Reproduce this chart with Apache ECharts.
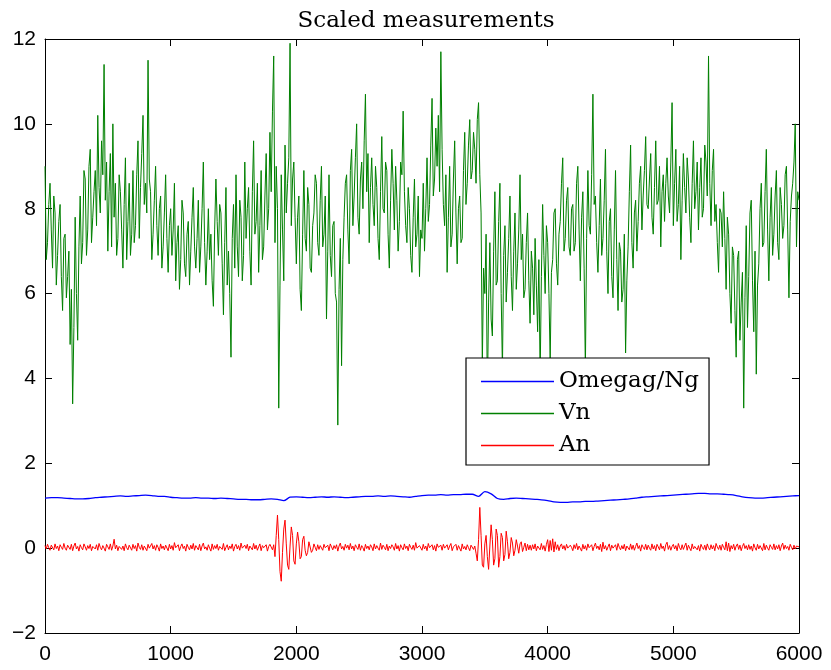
<!DOCTYPE html>
<html>
<head>
<meta charset="utf-8">
<title>Scaled measurements</title>
<script src="https://cdn.jsdelivr.net/npm/echarts@6/dist/echarts.min.js"></script>
<style>
  html, body { margin: 0; padding: 0; background: #fff; }
  #chart { width: 831px; height: 670px; }
</style>
</head>
<body>
<div id="chart"></div>
<script>
// Sample spacing of each recorded series (in samples)
const vnStep = 10;
const anStep = 10;
const omegaStep = 50;

const seriesNames = ['Omegag/Ng', 'Vn', 'An'];
const seriesColors = ['#0000ff', '#008000', '#ff0000'];
const xTicks = [0, 1000, 2000, 3000, 4000, 5000, 6000];
const yTicks = [-2, 0, 2, 4, 6, 8, 10, 12];

// Omegag/Ng, every 50 samples
const omegaValues = [
  1.18, 1.19, 1.19, 1.18, 1.17, 1.16, 1.16, 1.17, 1.19, 1.20,
  1.21, 1.22, 1.23, 1.22, 1.23, 1.24, 1.25, 1.24, 1.22, 1.22,
  1.20, 1.19, 1.18, 1.18, 1.19, 1.18, 1.18, 1.17, 1.18, 1.17,
  1.16, 1.15, 1.15, 1.14, 1.14, 1.15, 1.16, 1.15, 1.12, 1.20,
  1.21, 1.20, 1.19, 1.20, 1.21, 1.20, 1.21, 1.20, 1.19, 1.20,
  1.21, 1.22, 1.22, 1.23, 1.22, 1.23, 1.22, 1.21, 1.20, 1.22,
  1.24, 1.25, 1.25, 1.26, 1.25, 1.26, 1.26, 1.27, 1.27, 1.22,
  1.33, 1.28, 1.17, 1.15, 1.17, 1.18, 1.17, 1.16, 1.15, 1.14,
  1.12, 1.09, 1.08, 1.08, 1.09, 1.09, 1.10, 1.10, 1.11, 1.12,
  1.13, 1.14, 1.15, 1.16, 1.18, 1.20, 1.21, 1.22, 1.23, 1.24,
  1.25, 1.26, 1.27, 1.28, 1.29, 1.29, 1.28, 1.28, 1.27, 1.26,
  1.24, 1.21, 1.19, 1.18, 1.18, 1.19, 1.20, 1.21, 1.22, 1.23,
  1.24
];

// Vn, every 10 samples (one row = 200 samples)
const vnValues = [
  9.0, 6.8, 7.2, 8.1, 8.6, 7.5, 6.6, 8.3, 7.9, 6.2, 6.9, 7.7, 8.1, 6.4, 5.6, 7.3, 7.4, 5.9, 6.4, 7.0,
  4.8, 6.1, 3.4, 5.2, 7.8, 6.0, 4.9, 7.1, 8.3, 6.7, 7.2, 8.9, 8.7, 6.9, 7.5, 9.0, 9.4, 7.2, 7.8, 8.4,
  8.9, 7.6, 10.2, 8.5, 7.9, 9.6, 8.8, 11.4, 8.2, 9.1, 7.0, 8.4, 9.3, 7.1, 10.0, 7.8, 8.6, 6.9, 7.3, 8.8,
  8.4, 7.5, 6.6, 8.1, 9.2, 6.8, 7.7, 8.6, 6.9, 7.4, 8.9, 7.2, 7.6, 8.8, 9.6, 7.3, 8.5, 9.3, 10.2, 8.1,
  8.6, 7.9, 11.5, 8.7, 8.4, 6.8, 7.4, 8.2, 9.0, 7.6, 6.9, 8.0, 8.3, 6.6, 7.1, 7.9, 8.8, 7.3, 6.5, 7.6,
  8.0, 6.9, 7.5, 8.6, 6.3, 7.2, 7.6, 6.1, 6.8, 8.2, 7.9, 6.7, 6.4, 7.4, 7.7, 6.2, 7.0, 7.8, 8.5, 7.1,
  6.6, 7.3, 8.2, 6.5, 7.1, 8.0, 9.1, 7.2, 6.2, 7.0, 8.0, 6.8, 7.4, 6.3, 5.7, 7.5, 8.7, 7.7, 6.9, 8.1,
  7.9, 6.7, 5.5, 7.2, 8.5, 6.2, 7.0, 6.0, 4.5, 7.3, 8.1, 6.6, 8.8, 7.1, 6.4, 8.2, 7.8, 6.3, 6.9, 9.1,
  7.3, 8.0, 8.5, 7.0, 6.2, 8.4, 9.6, 7.4, 7.7, 8.6, 6.5, 7.6, 8.9, 6.8, 7.1, 8.3, 9.3, 7.5, 8.0, 9.8,
  8.4, 10.3, 11.6, 7.2, 9.0, 8.0, 3.3, 6.2, 8.8, 7.5, 6.3, 9.5, 7.9, 8.6, 9.2, 11.9, 7.6, 8.7, 9.1, 7.8,
  6.7, 7.8, 8.3, 6.1, 5.6, 7.4, 8.9, 7.3, 7.0, 8.5, 8.1, 6.6, 6.5, 7.6, 7.9, 8.8, 8.6, 7.2, 6.9, 8.2,
  9.0, 7.1, 7.4, 8.3, 5.4, 7.0, 8.8, 6.9, 6.4, 7.6, 7.7, 6.0, 5.8, 2.9, 6.1, 7.3, 4.3, 6.8, 7.8, 8.6,
  8.8, 7.5, 6.7, 8.9, 9.4, 7.6, 8.3, 9.2, 10.0, 7.8, 7.4, 8.7, 9.1, 8.0, 9.6, 10.7, 8.4, 9.3, 7.2, 8.5,
  9.2, 8.1, 7.6, 9.0, 8.5, 7.3, 6.8, 8.4, 9.7, 8.0, 7.9, 9.1, 8.9, 7.4, 6.6, 8.2, 9.4, 8.6, 7.5, 9.0,
  8.2, 7.0, 7.7, 9.1, 8.8, 10.3, 8.4, 7.6, 7.2, 8.5, 8.0, 6.9, 6.5, 7.8, 8.7, 7.1, 7.4, 8.3, 6.4, 7.5,
  7.3, 8.6, 7.0, 8.0, 9.2, 7.7, 8.1, 9.5, 10.6, 8.3, 8.7, 9.9, 9.0, 10.2, 8.4, 11.7, 9.4, 8.1, 7.6, 8.8,
  6.5, 7.8, 9.0, 7.1, 7.4, 8.7, 9.6, 7.9, 6.7, 8.0, 8.3, 7.2, 7.3, 8.9, 9.8, 8.1, 8.6, 9.5, 10.1, 8.7,
  8.9, 9.8, 9.4, 8.6, 10.1, 10.5, 8.8, 7.9, 4.3, 6.6, 6.0, 7.4, 3.5, 5.8, 7.2, 5.4, 5.0, 7.0, 8.4, 6.2,
  6.3, 7.7, 8.6, 6.0, 4.2, 6.9, 7.6, 5.8, 6.5, 7.3, 8.3, 6.4, 5.6, 7.0, 7.9, 6.1, 6.7, 7.5, 8.8, 6.8,
  7.4, 5.9, 6.1, 7.2, 7.9, 6.3, 5.3, 7.0, 6.6, 5.5, 7.3, 6.2, 5.1, 6.8, 4.0, 6.4, 8.1, 6.9, 6.0, 7.6,
  7.2, 6.0, 4.4, 6.5, 6.8, 7.9, 8.0, 6.7, 6.2, 7.4, 7.7, 8.6, 9.2, 7.0, 7.3, 8.2, 8.5, 7.1, 6.9, 8.0,
  8.1, 7.0, 7.2, 8.6, 9.0, 7.5, 6.3, 7.8, 8.4, 6.6, 4.2, 7.3, 8.9, 7.6, 7.4, 8.8, 10.7, 8.1, 8.3, 7.2,
  6.5, 7.6, 8.7, 6.9, 7.3, 8.2, 9.4, 7.0, 6.0, 7.7, 8.0, 6.4, 5.9, 7.5, 8.9, 6.8, 5.6, 7.2, 7.0, 5.8,
  6.1, 7.4, 4.6, 6.3, 7.1, 8.4, 9.5, 7.2, 6.6, 7.9, 8.2, 7.0, 7.7, 8.6, 9.0, 7.5, 8.3, 8.9, 9.7, 8.1,
  8.0, 8.7, 9.3, 7.8, 7.4, 8.5, 9.6, 8.1, 8.2, 9.0, 7.1, 8.4, 8.8, 7.7, 8.6, 9.2, 8.3, 7.9, 9.1, 10.5,
  7.6, 8.6, 9.4, 7.7, 8.1, 9.0, 6.8, 8.2, 9.3, 8.5, 7.9, 9.2, 8.7, 7.8, 7.2, 8.6, 9.6, 8.0, 8.4, 9.1,
  7.5, 8.5, 9.2, 7.8, 8.0, 9.5, 9.1, 8.3, 11.6, 8.6, 7.6, 8.9, 9.4, 7.7, 8.1, 7.2, 6.5, 8.0, 7.9, 7.1,
  8.4, 7.3, 6.1, 7.8, 7.4, 6.0, 5.3, 7.1, 6.9, 5.6, 4.5, 6.8, 7.0, 4.9, 5.8, 6.5, 3.3, 5.9, 7.6, 5.2,
  6.4, 7.9, 8.2, 6.3, 5.1, 7.0, 4.1, 6.2, 6.7, 8.0, 8.6, 7.1, 7.2, 8.4, 9.4, 7.5, 6.3, 7.8, 8.5, 6.9,
  7.4, 8.3, 8.9, 7.2, 6.8, 8.5, 8.1, 7.3, 7.6, 8.8, 9.0, 7.5, 5.9, 7.7, 8.3, 8.6, 9.1, 10.0, 7.1, 8.4,
  8.2
];

// An, every 10 samples (one row = 200 samples)
const anValues = [
  0.06, -0.02, 0.09, 0.01, -0.05, 0.07, 0.03, -0.04, 0.10, -0.01, 0.05, -0.06, 0.08, 0.02, -0.03, 0.11, 0.00, -0.05, 0.07, 0.04,
  -0.03, 0.09, -0.06, 0.05, 0.12, -0.02, 0.04, -0.07, 0.08, 0.01, -0.04, 0.10, 0.03, -0.05, 0.06, -0.01, 0.09, -0.06, 0.04, 0.07,
  -0.02, 0.08, -0.05, 0.11, 0.02, -0.04, 0.06, 0.00, -0.07, 0.09, 0.03, -0.03, 0.10, -0.05, 0.05, 0.21, -0.02, 0.07, -0.06, 0.04,
  0.08, -0.03, 0.05, -0.06, 0.10, 0.01, -0.04, 0.07, 0.03, -0.05, 0.09, -0.01, 0.06, -0.07, 0.12, 0.02, -0.03, 0.08, -0.05, 0.05,
  0.03, -0.06, 0.09, 0.00, -0.04, 0.11, -0.02, 0.06, -0.05, 0.08, 0.02, -0.07, 0.10, -0.01, 0.05, -0.04, 0.07, 0.03, -0.06, 0.09,
  -0.02, 0.06, -0.05, 0.13, 0.01, -0.03, 0.08, -0.06, 0.04, 0.10, -0.01, 0.05, -0.07, 0.09, 0.02, -0.04, 0.07, -0.02, 0.11, -0.05,
  0.06, 0.01, -0.04, 0.09, -0.06, 0.05, 0.12, -0.02, 0.03, -0.05, 0.08, 0.00, -0.07, 0.10, -0.03, 0.06, -0.01, 0.09, -0.05, 0.04,
  0.07, -0.03, 0.11, -0.06, 0.02, 0.08, -0.04, 0.05, -0.01, 0.10, -0.07, 0.04, 0.09, -0.02, 0.06, -0.05, 0.12, 0.00, -0.04, 0.07,
  -0.01, 0.09, -0.06, 0.05, 0.02, -0.04, 0.11, -0.02, 0.07, -0.05, 0.03, 0.10, -0.06, 0.06, 0.01, -0.03, 0.08, -0.07, 0.04, 0.09,
  0.05, -0.04, 0.08, -0.20, 0.30, 0.78, 0.20, -0.55, -0.78, -0.10, 0.45, 0.66, 0.10, -0.40, -0.50, 0.05, 0.50, 0.30, -0.30, -0.38,
  0.10, 0.38, 0.15, -0.25, -0.20, 0.20, 0.28, -0.05, -0.18, -0.10, 0.15, 0.12, -0.10, -0.05, 0.10, 0.02, -0.06, 0.08, -0.03, 0.06,
  0.02, -0.05, 0.09, 0.01, -0.03, 0.07, -0.06, 0.10, 0.03, -0.04, 0.06, -0.01, 0.08, -0.07, 0.05, 0.12, -0.02, 0.04, -0.05, 0.09,
  0.00, 0.07, -0.04, 0.11, -0.02, 0.05, -0.06, 0.08, 0.02, -0.03, 0.10, -0.05, 0.06, 0.01, -0.07, 0.09, -0.01, 0.05, -0.04, 0.08,
  0.03, -0.06, 0.10, -0.02, 0.06, 0.00, -0.05, 0.12, -0.03, 0.07, 0.02, -0.04, 0.09, -0.06, 0.05, -0.01, 0.08, 0.03, -0.05, 0.11,
  -0.02, 0.06, -0.07, 0.08, 0.01, -0.04, 0.10, -0.01, 0.05, -0.06, 0.09, 0.02, -0.03, 0.07, -0.05, 0.13, 0.00, -0.04, 0.06, 0.03,
  -0.05, 0.09, -0.02, 0.05, -0.06, 0.11, 0.01, -0.03, 0.08, -0.04, 0.06, -0.07, 0.10, 0.02, -0.02, 0.07, -0.05, 0.09, 0.00, -0.03,
  0.08, -0.04, 0.05, 0.11, -0.06, 0.03, -0.01, 0.09, -0.05, 0.06, 0.02, -0.07, 0.10, -0.02, 0.04, -0.04, 0.08, 0.01, -0.06, 0.07,
  0.06, -0.03, 0.05, -0.12, -0.30, 0.20, 0.96, 0.30, -0.40, -0.45, 0.10, 0.30, -0.20, -0.50, 0.05, 0.55, 0.20, -0.40, -0.25, 0.45,
  0.30, -0.45, -0.20, 0.35, 0.25, -0.30, -0.15, 0.40, 0.15, -0.25, -0.10, 0.25, 0.12, -0.18, -0.05, 0.20, 0.05, -0.12, 0.10, 0.15,
  -0.08, 0.02, 0.12, -0.06, 0.09, -0.04, 0.07, -0.05, 0.08, -0.02, 0.10, -0.06, 0.05, 0.01, -0.04, 0.11, -0.03, 0.06, -0.07, 0.09,
  0.20, -0.08, 0.18, -0.05, 0.22, -0.09, 0.15, -0.03, 0.08, -0.06, 0.05, 0.10, -0.02, 0.06, -0.05, 0.09, 0.00, -0.04, 0.07, 0.02,
  -0.06, 0.08, -0.01, 0.11, -0.04, 0.05, 0.02, -0.07, 0.09, -0.02, 0.06, -0.05, 0.10, 0.01, -0.03, 0.08, -0.06, 0.04, 0.12, -0.01,
  0.05, -0.04, 0.09, -0.08, 0.14, -0.02, 0.06, -0.05, 0.03, 0.10, -0.06, 0.07, 0.00, -0.03, 0.08, -0.05, 0.11, 0.02, -0.04, 0.06,
  -0.02, 0.09, -0.06, 0.05, 0.01, -0.04, 0.10, -0.03, 0.07, -0.05, 0.04, 0.12, -0.01, 0.06, -0.07, 0.08, 0.02, -0.03, 0.09, -0.04,
  0.07, 0.00, -0.05, 0.10, -0.02, 0.06, -0.06, 0.09, 0.03, -0.04, 0.11, -0.01, 0.05, -0.07, 0.08, 0.14, -0.03, 0.06, -0.05, 0.04,
  0.09, -0.02, 0.06, -0.06, 0.11, 0.01, -0.04, 0.08, -0.03, 0.05, 0.12, -0.05, 0.07, 0.00, -0.06, 0.10, -0.02, 0.04, 0.08, -0.04,
  0.06, -0.07, 0.09, 0.02, -0.03, 0.07, -0.05, 0.10, 0.01, -0.04, 0.08, -0.02, 0.06, -0.06, 0.11, 0.03, -0.03, 0.07, -0.05, 0.09,
  0.02, -0.04, 0.15, -0.06, 0.12, -0.08, 0.06, -0.02, 0.09, -0.05, 0.05, 0.10, -0.03, 0.07, -0.06, 0.04, 0.11, -0.01, 0.06, -0.04,
  0.08, -0.03, 0.05, -0.07, 0.10, 0.01, -0.05, 0.09, -0.02, 0.06, 0.03, -0.06, 0.11, -0.04, 0.07, 0.00, -0.05, 0.08, 0.02, -0.03,
  0.10, -0.04, 0.06, -0.02, 0.08, -0.06, 0.05, 0.12, -0.03, 0.07, -0.01, 0.04, -0.05, 0.09, 0.02, -0.04, 0.07, -0.02, 0.05, 0.08,
  0.03
];

function toPairs(values, step) {
  return values.map((v, i) => [i * step, v]);
}

const axisColor = '#000';
const tickFont = 'Liberation Sans, Arial, Helvetica, sans-serif';
const serifFont = 'DejaVu Serif, Liberation Serif, serif';
const minusSign = v => String(v).replace('-', '\u2212');

const xMin = xTicks[0], xMax = xTicks[xTicks.length - 1];
const xInterval = xTicks[1] - xTicks[0];
const yMin = yTicks[0], yMax = yTicks[yTicks.length - 1];
const yInterval = yTicks[1] - yTicks[0];

function xAxisDef(position, showLabels) {
  return {
    type: 'value', position: position, min: xMin, max: xMax, interval: xInterval,
    axisLine: { show: true, onZero: false, lineStyle: { color: axisColor, width: 1 } },
    axisTick: { show: true, inside: true, length: 7, lineStyle: { color: axisColor, width: 1 } },
    axisLabel: { show: showLabels, color: '#000', fontFamily: tickFont, fontSize: 21, margin: 11, formatter: minusSign },
    splitLine: { show: false }
  };
}
function yAxisDef(position, showLabels) {
  return {
    type: 'value', position: position, min: yMin, max: yMax, interval: yInterval,
    axisLine: { show: true, onZero: false, lineStyle: { color: axisColor, width: 1 } },
    axisTick: { show: true, inside: true, length: 7, lineStyle: { color: axisColor, width: 1 } },
    axisLabel: { show: showLabels, color: '#000', fontFamily: tickFont, fontSize: 21, margin: 9,
                 padding: [4, 0, 0, 0], formatter: minusSign },
    splitLine: { show: false }
  };
}

const chart = echarts.init(document.getElementById('chart'), null, { renderer: 'canvas' });
chart.setOption({
  animation: false,
  backgroundColor: '#fff',
  title: {
    text: 'Scaled measurements',
    left: 421, top: 5, textAlign: 'center',
    textStyle: { fontFamily: serifFont, fontSize: 23, fontWeight: 'normal', color: '#000' }
  },
  grid: { left: 45, right: 32, top: 39, bottom: 37, containLabel: false },
  xAxis: [xAxisDef('bottom', true), xAxisDef('top', false)],
  yAxis: [yAxisDef('left', true), yAxisDef('right', false)],
  legend: {
    orient: 'vertical', left: 466, top: 358,
    data: seriesNames.map((name, i) => ({
      name: name,
      icon: 'rect',
      itemStyle: { color: seriesColors[i], borderWidth: 0, opacity: 1 }
    })),
    backgroundColor: '#fff', borderColor: '#000', borderWidth: 1.2,
    padding: [12, 10, 8, 15],
    itemWidth: 73, itemHeight: 1.5, itemGap: 9,
    textStyle: { fontFamily: serifFont, fontSize: 23, color: '#000', lineHeight: 21 }
  },
  series: [
    {
      name: seriesNames[0], type: 'line', data: toPairs(omegaValues, omegaStep),
      symbol: 'none', smooth: 0.3, lineStyle: { color: seriesColors[0], width: 1.3 }, itemStyle: { color: seriesColors[0] }
    },
    {
      name: seriesNames[1], type: 'line', data: toPairs(vnValues, vnStep),
      symbol: 'none', lineStyle: { color: seriesColors[1], width: 1 }, itemStyle: { color: seriesColors[1] }
    },
    {
      name: seriesNames[2], type: 'line', data: toPairs(anValues, anStep),
      symbol: 'none', lineStyle: { color: seriesColors[2], width: 1 }, itemStyle: { color: seriesColors[2] }
    }
  ]
});
</script>
</body>
</html>
